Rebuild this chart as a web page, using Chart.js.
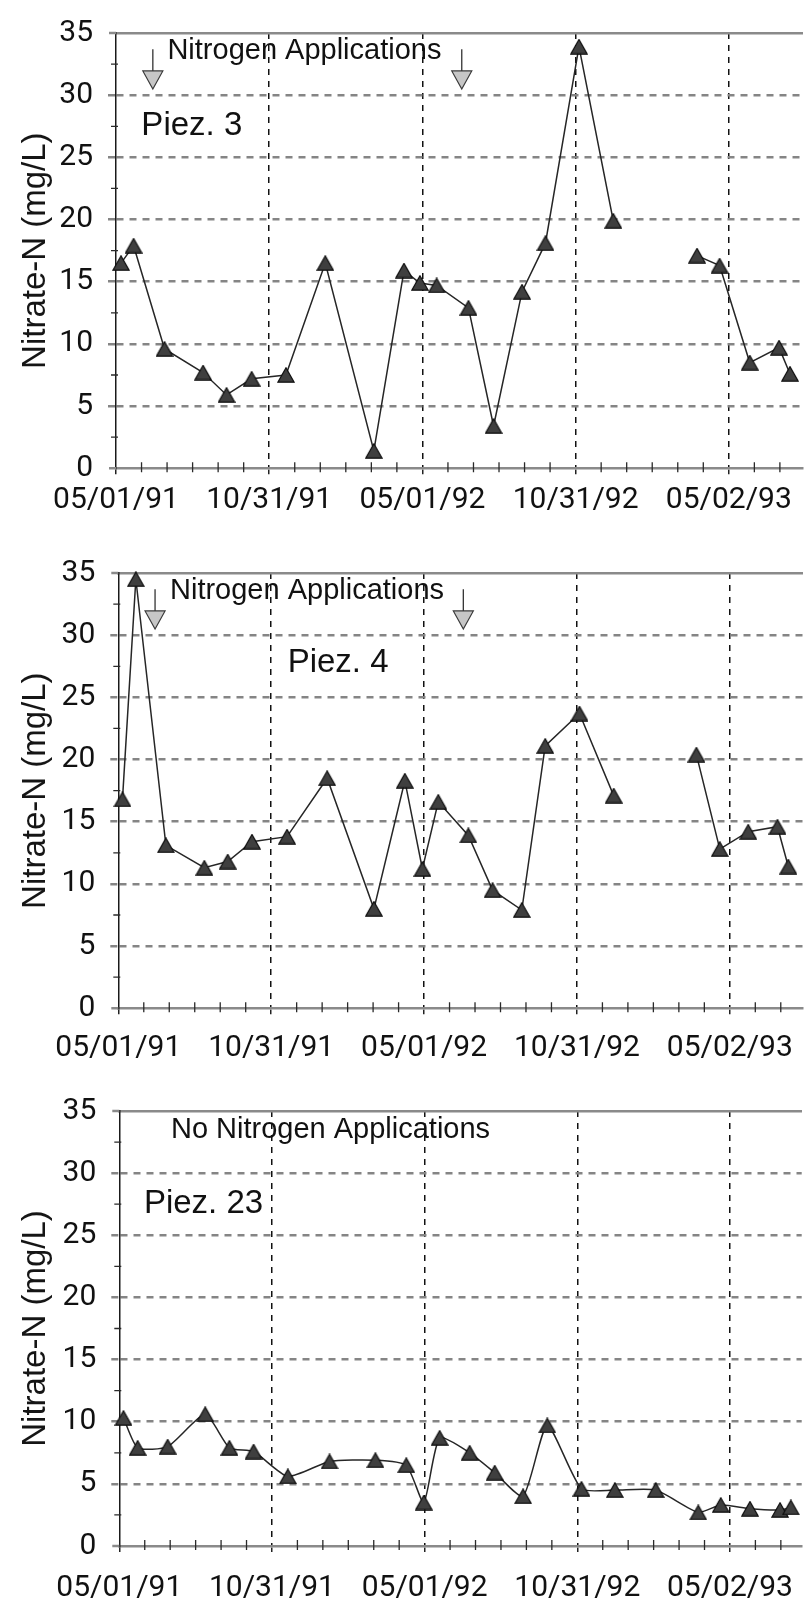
<!DOCTYPE html>
<html>
<head>
<meta charset="utf-8">
<script src="https://cdn.jsdelivr.net/npm/chart.js@4.4.1/dist/chart.umd.min.js"></script>
<style>
html, body { margin: 0; padding: 0; background: #fff; }
#wrap { position: relative; width: 812px; height: 1600px; overflow: hidden; background: #fff; }
canvas { position: absolute; left: 0; }
</style>
</head>
<body>
<div id="wrap">
  <canvas id="c1" width="812" height="540" style="top:0px;width:812px;height:540px"></canvas>
  <canvas id="c2" width="812" height="538" style="top:540px;width:812px;height:538px"></canvas>
  <canvas id="c3" width="812" height="522" style="top:1078px;width:812px;height:522px"></canvas>
</div>
<script>
// ---- data (x = days after 05/01/91) ----
const tickDays = [0, 183, 366, 549, 732];
const tickLabels = ['05/01/91', '10/31/91', '05/01/92', '10/31/92', '05/02/93'];
const minorDays = 30.5;

const piez3Days    = [6, 21, 58, 104, 132, 162, 203, 250, 308, 344, 363, 383, 421, 451, 485, 513, 553, 594, null, 694, 721, 757, 792, 805];
const piez3Nitrate = [16.5, 17.9, 9.6, 7.7, 5.9, 7.2, 7.5, 16.5, 1.4, 15.9, 14.9, 14.7, 12.9, 3.4, 14.2, 18.1, 33.9, 19.9, null, 17.1, 16.3, 8.5, 9.7, 7.6];

const piez4Days    = [5, 21, 57, 103, 131, 160, 202, 250, 306, 343, 364, 383, 419, 448, 483, 511, 552, 593, null, 692, 720, 754, 789, 802];
const piez4Nitrate = [16.8, 34.5, 13.1, 11.3, 11.8, 13.4, 13.8, 18.5, 8.0, 18.3, 11.2, 16.6, 13.9, 9.5, 7.9, 21.1, 23.7, 17.1, null, 20.4, 12.8, 14.2, 14.6, 11.4];

const piez23Days    = [5, 22, 58, 103, 132, 161, 202, 252, 307, 344, 365, 384, 420, 450, 484, 513, 554, 594, 643, 694, 721, 756, 792, 805];
const piez23Nitrate = [10.3, 7.9, 8.0, 10.6, 7.9, 7.6, 5.6, 6.8, 6.9, 6.5, 3.5, 8.7, 7.5, 5.9, 4.0, 9.7, 4.6, 4.5, 4.5, 2.7, 3.3, 3.0, 2.9, 3.1];

const applicationDays = [44, 413];
const arrowTipValue = 30.5;
const arrowTopValue = 33.7;

// ---- marker image (triangle centred in its box) ----
const triangleMarker = (() => {
  const c = document.createElement('canvas');
  c.width = 18; c.height = 16;
  const g = c.getContext('2d');
  g.beginPath();
  g.moveTo(9, 0.8); g.lineTo(17.2, 15.2); g.lineTo(0.8, 15.2); g.closePath();
  g.fillStyle = '#3f3f3f'; g.fill();
  g.lineWidth = 1.2; g.strokeStyle = '#0d0d0d'; g.stroke();
  return c;
})();

const panels = [
  { canvas: 'c1', days: piez3Days, values: piez3Nitrate, area: { left: 116, top: 26.6, bottom: 468.3 },
    xMax: 820, labelPad: 8, arrows: applicationDays, tension: 0,
    notes: [ { text: 'Nitrogen Applications', day: 61.4, value: 32.9, size: 29 },
             { text: 'Piez. 3', day: 30.3, value: 26.8, size: 33 } ] },
  { canvas: 'c2', days: piez4Days, values: piez4Nitrate, area: { left: 118.3, top: 26.7, bottom: 468.3 },
    xMax: 819, labelPad: 16, arrows: applicationDays, tension: 0,
    notes: [ { text: 'Nitrogen Applications', day: 61.9, value: 32.9, size: 29 },
             { text: 'Piez. 4', day: 202.7, value: 27.07, size: 33 } ] },
  { canvas: 'c3', days: piez23Days, values: piez23Nitrate, area: { left: 119.3, top: 29.3, bottom: 468 },
    xMax: 818, labelPad: 18, arrows: [], tension: 0.2,
    notes: [ { text: 'No Nitrogen Applications', day: 61.9, value: 32.8, size: 29 },
             { text: 'Piez. 23', day: 29.5, value: 26.8, size: 33 } ] }
];

function decor(p) {
  return {
    id: 'decor_' + p.canvas,
    beforeDraw(chart) {
      const { ctx, scales: { x, y } } = chart;
      ctx.save();
      ctx.fillStyle = '#111';
      ctx.textAlign = 'left';
      ctx.textBaseline = 'alphabetic';
      p.notes.forEach(n => {
        ctx.font = n.size + 'px "Liberation Sans", Arial, sans-serif';
        ctx.fillText(n.text, x.getPixelForValue(n.day), y.getPixelForValue(n.value));
      });
      ctx.restore();
    },
    afterDraw(chart) {
      const { ctx, scales: { x, y } } = chart;
      const y0 = y.getPixelForValue(0);
      const yTop = y.getPixelForValue(35);
      const xl = x.getPixelForValue(0);
      ctx.save();
      ctx.strokeStyle = '#2a2a2a';
      ctx.lineWidth = 1.3;
      ctx.beginPath();
      for (let k = 1; k * minorDays <= p.xMax; k++) {
        if (k % 6 === 0) continue;
        const px = x.getPixelForValue(k * minorDays);
        ctx.moveTo(px, y0 - 6); ctx.lineTo(px, y0 + 4);
      }
      for (let v = 2.5; v < 35; v += 5) {
        const py = y.getPixelForValue(v);
        ctx.moveTo(xl - 5, py); ctx.lineTo(xl + 2, py);
      }
      ctx.stroke();
      // short extensions of the frame lines to the left of the value axis
      ctx.strokeStyle = '#8a8a8a';
      ctx.lineWidth = 2.5;
      ctx.beginPath();
      ctx.moveTo(xl - 7, yTop); ctx.lineTo(xl, yTop);
      ctx.moveTo(xl - 7, y0); ctx.lineTo(xl, y0);
      ctx.stroke();
      p.arrows.forEach(d => {
        const ax = x.getPixelForValue(d);
        const tip = y.getPixelForValue(arrowTipValue);
        const top = y.getPixelForValue(arrowTopValue);
        const hh = 18, hw = 10;
        ctx.beginPath();
        ctx.moveTo(ax, top); ctx.lineTo(ax, tip - hh);
        ctx.strokeStyle = '#333'; ctx.lineWidth = 1.3; ctx.stroke();
        ctx.beginPath();
        ctx.moveTo(ax - hw, tip - hh); ctx.lineTo(ax + hw, tip - hh); ctx.lineTo(ax, tip); ctx.closePath();
        ctx.fillStyle = '#c6c6c6'; ctx.fill();
        ctx.strokeStyle = '#3a3a3a'; ctx.lineWidth = 1.2; ctx.stroke();
      });
      ctx.restore();
    }
  };
}

function makeChart(p) {
  const el = document.getElementById(p.canvas);
  const H = el.height;
  const data = p.days.map((d, i) => ({ x: d, y: p.values[i] }));
  const tickFont = { family: 'Roboto', size: 30 };
  return new Chart(el, {
    type: 'line',
    data: {
      datasets: [{
        data,
        borderColor: '#262626',
        borderWidth: 1.5,
        pointStyle: triangleMarker,
        pointRadius: 8,
        pointHoverRadius: 8,
        spanGaps: false,
        tension: p.tension,
        clip: false,
        fill: false
      }]
    },
    options: {
      responsive: false,
      devicePixelRatio: 1,
      animation: false,
      events: [],
      layout: { padding: { top: p.area.top, left: 0, right: 0, bottom: 0 } },
      plugins: { legend: { display: false }, tooltip: { enabled: false } },
      scales: {
        x: {
          type: 'linear', position: 'bottom', min: 0, max: p.xMax,
          afterBuildTicks: s => { s.ticks = tickDays.map(v => ({ value: v })); },
          afterFit: s => { s.height = H - p.area.bottom; },
          ticks: {
            autoSkip: false, maxRotation: 0, minRotation: 0, padding: p.labelPad,
            color: '#111', font: tickFont,
            callback: (v, i) => tickLabels[i]
          },
          grid: {
            color: c => (c.tick && c.tick.value === 0) ? 'rgba(0,0,0,0)' : '#111',
            lineWidth: 1.5, tickLength: 6, tickColor: '#222', tickWidth: 1.5, tickBorderDash: []
          },
          border: { display: true, color: '#8a8a8a', width: 2.5, dash: [6, 6] }
        },
        x2: {
          type: 'linear', position: 'top', min: 0, max: p.xMax,
          afterFit: s => { s.height = 0; },
          ticks: { display: false },
          grid: { display: false, drawTicks: false },
          border: { display: true, color: '#8a8a8a', width: 2.5 }
        },
        y: {
          type: 'linear', min: 0, max: 35,
          afterFit: s => { s.width = p.area.left; },
          ticks: { stepSize: 5, padding: 15, color: '#111', font: tickFont },
          grid: {
            color: c => (c.tick && (c.tick.value === 0 || c.tick.value === 35)) ? 'rgba(0,0,0,0)' : '#858585',
            lineWidth: 2.5, tickLength: 8, tickColor: c => (c.tick && (c.tick.value === 0 || c.tick.value === 35)) ? 'rgba(0,0,0,0)' : '#858585',
            tickWidth: 2.5, tickBorderDash: [7, 6]
          },
          border: { display: true, color: '#1a1a1a', width: 1.5, dash: [7, 6] },
          title: {
            display: true, text: 'Nitrate-N (mg/L)', color: '#151515',
            font: { family: 'Liberation Sans', size: 33 }, padding: { top: 16, bottom: 0 }
          }
        }
      }
    },
    plugins: [decor(p)]
  });
}

panels.forEach(makeChart);
</script>
</body>
</html>
